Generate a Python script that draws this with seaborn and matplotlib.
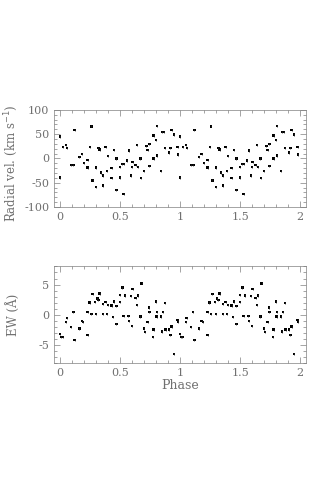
import pandas as pd
import matplotlib
matplotlib.use('Agg')
import matplotlib.pyplot as plt
import seaborn as sns
import numpy as np
from matplotlib.ticker import MultipleLocator

# radial velocity, phase 0-1 (plotted twice: phase and phase+1)
rv_phase = [0.00, 0.00, 0.025, 0.05, 0.057, 0.089, 0.111, 0.12, 0.16, 0.18,
            0.20, 0.23, 0.23, 0.25, 0.26, 0.27, 0.30, 0.30, 0.32, 0.33,
            0.34, 0.36, 0.36, 0.38, 0.39, 0.40, 0.43, 0.43, 0.45, 0.47,
            0.47, 0.50, 0.50, 0.52, 0.53, 0.53, 0.56, 0.575, 0.59, 0.605,
            0.60, 0.63, 0.64, 0.65, 0.67, 0.675, 0.70, 0.72, 0.73, 0.745,
            0.745, 0.78, 0.78, 0.80, 0.81, 0.81, 0.84, 0.85, 0.865, 0.875,
            0.92, 0.91, 0.93, 0.95, 0.98, 0.985]
rv_vel = [45, -39, 24, 28, 21, -14, -14, 58, 2.5, 9,
          -9, -19, -3, 23, 66, -45, -19, -59, 21, 18,
          -29, -35, -56, 24, -26, 5, -20, -40, 17, -65,
          0, -18, -39, -12, -12, -73, -4, 16, -35, -7,
          -17, -14, 28, -17, 0, -40, -26, 26, 17, 30,
          -16, 0, 47, 38, 67, 6, -26, 54, 54, 21,
          21, 12, 58, 49, 24, 8]

# equivalent width, phase 0-1
ew_phase = [0.00, 0.01, 0.02, 0.05, 0.055, 0.09, 0.11, 0.12, 0.16, 0.18,
            0.19, 0.23, 0.23, 0.245, 0.26, 0.27, 0.29, 0.30, 0.31, 0.32,
            0.33, 0.36, 0.36, 0.38, 0.39, 0.40, 0.43, 0.44, 0.45, 0.47,
            0.47, 0.50, 0.50, 0.52, 0.53, 0.54, 0.57, 0.575, 0.59, 0.60,
            0.605, 0.63, 0.64, 0.65, 0.67, 0.68, 0.70, 0.71, 0.73, 0.74,
            0.745, 0.775, 0.78, 0.80, 0.805, 0.81, 0.84, 0.85, 0.86, 0.875,
            0.88, 0.91, 0.92, 0.93, 0.95, 0.98, 0.985]
ew_val = [-3.2, -3.7, -3.7, -1.2, -0.6, -2.1, 0.4, -4.2, -2.3, -1.1,
          -1.2, -3.4, 0.45, 2.0, 0.1, 3.4, 2.1, 0.1, 2.7, 2.4,
          3.5, 0.1, 1.8, 2.1, 0.1, 1.6, 1.5, -0.4, 2.2, -1.6,
          1.4, 3.3, 2.1, 4.5, -0.2, 3.2, -0.2, -1.1, 3.1, -1.9,
          4.3, 2.8, 1.6, 3.2, -0.3, 5.2, -2.3, -2.9, -1.2, 1.2,
          0.45, -3.7, -2.5, 2.2, -0.3, 0.45, -0.3, -2.8, 0.4, 1.9,
          -2.5, -2.5, -3.4, -2.0, -6.5, -0.85, -1.2]

rv = pd.DataFrame({'phase': rv_phase, 'val': rv_vel})
rv = pd.concat([rv, rv.assign(phase=rv['phase'] + 1)])
ew = pd.DataFrame({'phase': ew_phase, 'val': ew_val})
ew = pd.concat([ew, ew.assign(phase=ew['phase'] + 1)])

sns.set_style('ticks')
plt.rcParams['font.family'] = ['DejaVu Serif']
plt.rcParams['axes.unicode_minus'] = False
txt = '#707070'
plt.rcParams['axes.edgecolor'] = '#808080'

fig = plt.figure(figsize=(3.11, 4.99), dpi=100)
ax1 = fig.add_axes([0.174, 0.585, 0.810, 0.195])
ax2 = fig.add_axes([0.174, 0.273, 0.810, 0.193])

for ax, d, ylim, maj, mnr in [(ax1, rv, (-100, 100), 50, 10), (ax2, ew, (-8, 8), 5, 1)]:
    sns.scatterplot(x='phase', y='val', data=d, ax=ax, marker='s', s=3,
                    color='black', edgecolor='none')
    ax.errorbar(d['phase'], d['val'], yerr=(ylim[1] - ylim[0]) * 0.012, fmt='none',
                ecolor='#222222', elinewidth=0.5)
    ax.set_xlim(-0.05, 2.05)
    ax.set_ylim(*ylim)
    ax.set_xticks([0, 0.5, 1, 1.5, 2])
    ax.set_xticklabels(['0', '0.5', '1', '1.5', '2'])
    ax.xaxis.set_minor_locator(MultipleLocator(0.1))
    ax.yaxis.set_major_locator(MultipleLocator(maj))
    ax.yaxis.set_minor_locator(MultipleLocator(mnr))
    ax.tick_params(which='both', direction='in', top=True, right=True,
                   colors='#808080', labelcolor=txt, labelsize=8, width=0.5)
    ax.tick_params(which='major', length=4)
    ax.tick_params(which='minor', length=2)
    ax.set_xlabel('')
    for s in ax.spines.values():
        s.set_linewidth(0.5)

ax1.set_ylabel('Radial vel. (km s$^{-1}$)', color=txt, fontsize=8.5)
ax2.set_ylabel('EW (Å)', color=txt, fontsize=8.5)
ax2.set_xlabel('Phase', color=txt, fontsize=9, labelpad=1)
ax1.yaxis.set_label_coords(-0.135, 0.45)
ax2.yaxis.set_label_coords(-0.135, 0.5)

plt.savefig('out.png', dpi=100)
